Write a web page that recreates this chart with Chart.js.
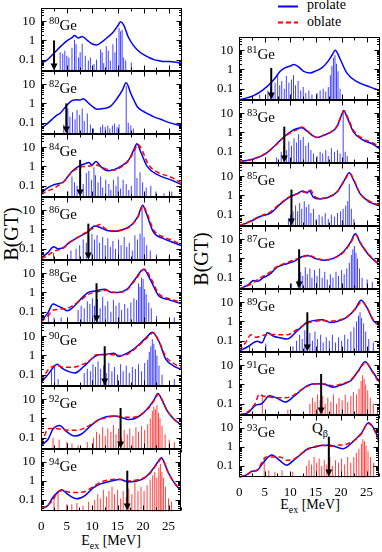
<!DOCTYPE html>
<html>
<head>
<meta charset="utf-8">
<script src="https://cdn.jsdelivr.net/npm/chart.js@4.4.1/dist/chart.umd.min.js"></script>
<style>
body{margin:0;width:382px;height:552px;background:#fff;position:relative;overflow:hidden;font-family:'Liberation Serif','Times New Roman',serif;color:#000}
canvas{position:absolute}
.lab{position:absolute;font-size:15px;line-height:15px;white-space:nowrap}
.lab .s{font-size:10.5px;position:relative;top:-6px}
.yt{position:absolute;font-size:20px;line-height:20px;transform:translate(-50%,-50%) rotate(-90deg);white-space:nowrap}
.xt{position:absolute;font-size:14px;line-height:14px;transform:translateX(-50%);white-space:nowrap}
.xt .s{font-size:10px;position:relative;top:4px}
.leg{position:absolute;font-size:14px;line-height:14px;white-space:nowrap}
svg{position:absolute}
</style>
</head>
<body>
<svg style="left:276px;top:0" width="26" height="30">
  <line x1="2" y1="6.5" x2="22" y2="6.5" stroke="#0000ff" stroke-width="2"/>
  <line x1="2" y1="22.5" x2="22" y2="22.5" stroke="#ff0000" stroke-width="2" stroke-dasharray="5,3"/>
</svg>
<div class="leg" style="left:307px;top:-2px">prolate</div>
<div class="leg" style="left:307px;top:15px">oblate</div>
<div class="yt" style="left:11px;top:234px">B(GT)</div>
<div class="yt" style="left:201px;top:259px">B(GT)</div>
<div class="xt" style="left:111px;top:534px">E<span class="s">ex</span> [MeV]</div>
<div class="xt" style="left:310px;top:498px">E<span class="s">ex</span> [MeV]</div>
<div class="lab" style="left:312px;top:421px">Q<span class="s" style="top:4px;font-size:10px">β</span></div>
<script>
Chart.defaults.font.family = "'Liberation Serif', 'Times New Roman', serif";
Chart.defaults.font.size = 13;
Chart.defaults.color = '#000';

const E_MAX = 27.5, B_MIN = 0.025, B_MAX = 50;
const xTicks = [0, 5, 10, 15, 20, 25];
const yTicks = [0.1, 1, 10];

// ---- strength functions, [E_ex (MeV), B(GT)] ----
const ge80Pro = [[0,0.065],[1,0.09],[2,0.16],[3,0.3],[4,0.55],[5,0.95],[6,1.4],[6.5,1.8],[7.2,1.35],[8,1.6],[9,1.0],[10,0.65],[10.8,0.58],[12,0.9],[13,1.5],[14,2.6],[15,6],[15.5,9.5],[16.1,6.5],[17,1.5],[18,0.55],[19,0.28],[20,0.18],[21,0.13],[22,0.1],[23,0.088],[24,0.08],[25,0.08],[26,0.075],[27.5,0.063]];
const ge80Str = [[3.7,0.24],[4.2,0.2],[4.6,0.29],[5,0.16],[5.4,0.13],[6,0.42],[6.5,1.1],[6.8,0.63],[7.3,0.13],[7.6,0.24],[8,0.68],[8.6,0.16],[9.2,0.09],[9.6,0.13],[10.3,0.06],[10.8,0.1],[11.6,0.35],[11.9,0.24],[12.2,0.065],[12.7,0.5],[13.1,0.29],[13.5,0.09],[14,0.63],[14.4,0.24],[14.7,1.35],[15.2,4.4],[15.5,3],[15.8,3.6],[16.1,0.13],[16.5,0.09],[17.6,0.07]];

const ge82Pro = [[0,0.052],[1,0.08],[2,0.14],[3,0.24],[3.7,0.31],[5,0.8],[6,1.4],[7,1.55],[7.6,1.5],[8.2,1.75],[9.3,1.0],[10,0.7],[10.9,0.5],[12.2,0.55],[13.5,0.7],[14.8,1.8],[15.8,4.6],[16.6,12],[17.5,3.3],[18.2,1.3],[18.8,0.65],[20,0.38],[20.7,0.3],[22,0.2],[23.3,0.15],[25,0.1],[27.5,0.066]];
const ge82Str = [[4.4,0.08],[5.2,0.55],[5.6,0.2],[6.1,0.35],[6.6,0.15],[7,0.45],[7.5,0.25],[8,0.55],[8.4,0.12],[9,0.3],[9.6,0.08],[10.2,0.05],[11.6,0.06],[12,0.08],[12.5,0.06],[13,0.07],[13.4,0.05],[13.9,0.07],[14.3,0.09],[14.8,0.06],[15.2,0.08],[16.6,8],[17,0.1],[17.5,0.07],[18,0.05]];

const ge84Pro = [[0,0.04],[1,0.07],[2.4,0.11],[3.5,0.13],[4.4,0.16],[5.2,0.3],[6,0.55],[7.3,1.0],[8.6,1.4],[9.3,1.6],[9.9,1.2],[10.7,1.8],[11.6,1.0],[12.9,0.6],[14.2,0.67],[15.5,1.0],[17.1,2.2],[18.1,7.5],[18.7,15],[19.4,6],[20.7,1.0],[22.7,0.37],[25.3,0.2],[27.5,0.11]];
const ge84Obl = [[0,0.035],[1,0.05],[2.4,0.07],[3.5,0.11],[4.4,0.16],[5.2,0.3],[6,0.5],[7.3,0.85],[8.6,1.0],[9.5,1.05],[10.5,1.2],[11.6,1.0],[12.9,0.7],[14.2,0.65],[15.5,0.9],[17.1,2.0],[18.1,6],[18.9,14],[19.7,7],[20.9,1.3],[22.7,0.5],[25.3,0.28],[27.5,0.13]];
const ge84Str = [[5.2,0.05],[6,0.3],[6.5,0.15],[7,0.1],[7.6,0.2],[8.2,0.12],[8.8,0.45],[9.3,0.6],[9.8,0.2],[10.3,0.9],[10.6,0.35],[11.1,0.15],[11.6,0.3],[12,0.08],[12.6,0.2],[13.2,0.12],[13.6,0.06],[14.1,0.2],[14.6,0.1],[15,0.3],[15.5,0.07],[16,0.2],[16.6,0.12],[17.1,0.06],[17.6,0.1],[18.3,12],[18.7,0.25],[19.3,0.5],[19.8,0.15],[20.5,0.08],[21.4,0.1],[22.4,0.05],[24,0.04],[25.5,0.05]];

const ge86Pro = [[0,0.033],[1.3,0.062],[2.4,0.125],[3.2,0.1],[4.2,0.11],[5.5,0.21],[7.5,0.43],[9.1,0.74],[10.4,1.5],[11.4,1.3],[12.7,0.9],[14.3,0.8],[16,1.0],[17.6,1.7],[18.9,4.8],[19.8,18],[20.5,7.3],[21.9,0.74],[23.9,0.33],[25.8,0.21],[27.5,0.14]];
const ge86Obl = [[0,0.03],[1.3,0.045],[2.4,0.07],[3.2,0.085],[4.2,0.1],[5.5,0.2],[7.5,0.45],[9.1,0.8],[10.4,1.3],[11.4,1.8],[12.7,1.0],[14.3,0.85],[16,0.95],[17.6,1.6],[18.9,4.5],[19.9,17],[20.7,6.5],[22,0.9],[23.9,0.4],[25.8,0.26],[27.5,0.16]];
const ge86Str = [[2.4,0.06],[5.8,0.08],[6.8,0.1],[7.5,0.15],[8.2,0.3],[8.8,0.2],[9.3,0.45],[9.9,0.6],[10.4,0.3],[10.9,0.5],[11.4,0.2],[12,0.4],[12.5,0.15],[13,0.35],[13.5,0.12],[14,0.25],[14.5,0.1],[15.1,0.3],[15.6,0.15],[16.2,0.4],[16.7,0.12],[17.2,0.2],[17.8,0.08],[18.3,0.5],[18.8,0.3],[19.3,0.6],[19.7,14],[20.1,0.4],[20.6,0.15],[21.3,0.08],[22.5,0.05],[25,0.04]];

const ge88Pro = [[0,0.033],[1.3,0.087],[2.3,0.25],[3.2,0.2],[4.2,0.15],[5.1,0.11],[6.1,0.16],[7.6,0.42],[9.2,1.0],[10.5,1.2],[12.5,1.45],[13.7,1.0],[15,1.0],[16.7,1.45],[18.3,4.7],[20,16],[21.3,4.7],[22.9,0.7],[24.9,0.42],[27.5,0.25]];
const ge88Obl = [[0,0.03],[1.3,0.06],[2.3,0.12],[3.2,0.13],[4.2,0.14],[5.1,0.15],[6.1,0.2],[7.6,0.38],[9.2,0.8],[10.5,1.0],[12.7,1.3],[13.7,1.05],[15,1.0],[16.7,1.3],[18.3,4.2],[20.2,16],[21.5,5],[22.9,0.9],[24.9,0.48],[27.5,0.3]];
const ge88Str = [[1.4,0.08],[2.5,0.05],[3.9,0.05],[7.2,0.12],[7.8,0.2],[8.4,0.15],[9,0.35],[9.5,0.25],[10,0.5],[10.4,0.2],[11,0.45],[11.5,0.15],[12,0.6],[12.5,0.2],[13,0.35],[13.6,0.1],[14.1,0.4],[14.6,0.2],[15.2,0.3],[15.7,0.12],[16.3,0.25],[16.9,0.15],[17.5,0.3],[18.1,0.5],[18.6,0.4],[19,3],[19.3,2],[19.6,6],[19.9,5],[20.2,1.5],[20.5,0.8],[21,0.3],[21.5,0.15],[22.5,0.06],[26,0.05]];

const ge90Pro = [[0,0.04],[1.3,0.1],[2.3,0.23],[3.1,0.35],[3.9,0.23],[5.2,0.15],[6.5,0.12],[8.2,0.25],[9.5,0.53],[10.8,1.0],[12.5,1.13],[14.2,1.3],[15.2,0.88],[16.2,1.1],[17.8,1.9],[19.4,4.4],[20.6,9],[21.7,16],[23,5.3],[24.3,0.66],[25.9,0.28],[27.5,0.18]];
const ge90Obl = [[0,0.05],[1.5,0.2],[2.5,0.28],[3.2,0.3],[4,0.25],[5.2,0.24],[6.5,0.25],[8.2,0.35],[9.5,0.55],[10.8,1.1],[12.5,1.1],[14.2,1.1],[15.2,1.0],[16.2,1.0],[17.8,1.7],[19.4,4],[20.6,8],[21.9,15],[23.1,5],[24.3,0.9],[25.9,0.38],[27.5,0.22]];
const ge90Str = [[2,0.15],[2.6,0.25],[3.3,0.06],[8.4,0.12],[9,0.2],[9.6,0.15],[10.1,0.35],[10.6,0.25],[11.1,0.5],[11.6,0.2],[12.2,0.3],[12.7,0.12],[13.2,0.4],[13.8,0.15],[14.3,0.25],[14.9,0.1],[15.5,0.35],[16,0.15],[16.6,0.3],[17.2,0.12],[17.8,0.25],[18.4,0.2],[19,0.35],[19.6,0.15],[20.2,0.4],[20.8,0.6],[21.1,1.5],[21.4,3],[21.7,7],[22,4],[22.3,2],[22.6,1],[23,0.3],[23.6,0.1],[26,0.06]];

const ge92Pro = [[0,0.04],[1.3,0.08],[2.3,0.28],[3.6,0.43],[4.9,0.21],[6.5,0.12],[7.8,0.15],[9.5,0.38],[11.1,0.81],[12.7,1.23],[14.4,1.35],[15.7,1.13],[17,0.88],[18.3,1.0],[19.9,1.9],[21.2,4.5],[22.1,10],[22.8,20],[23.6,9],[24.5,2.8],[25.8,1.0],[27.5,0.43]];
const ge92Obl = [[0,0.05],[1.5,0.3],[2.5,0.3],[3.5,0.28],[4.9,0.25],[6.5,0.24],[7.8,0.27],[9.5,0.45],[11.1,0.8],[12.7,1.1],[14.4,1.3],[15.7,1.2],[17,1.15],[18.3,1.2],[19.9,1.9],[21.2,4],[22.1,9],[22.9,18],[23.7,8.5],[24.5,2.8],[25.8,1.0],[27.5,0.4]];
const ge92Str = [[2.3,0.1],[3.5,0.08],[5,0.06],[6,0.05],[7.2,0.04],[9,0.06],[10.2,0.1],[10.8,0.2],[11.4,0.15],[12,0.35],[12.5,0.12],[13,0.3],[13.6,0.2],[14.1,0.45],[14.6,0.15],[15.1,0.3],[15.7,0.1],[16.2,0.25],[16.8,0.15],[17.3,0.3],[17.9,0.12],[18.5,0.35],[19,0.2],[19.6,0.4],[20.2,0.25],[20.8,0.5],[21.3,1],[21.7,2.5],[22,4],[22.3,3],[22.6,5],[22.9,2],[23.2,1],[23.6,0.4],[24.2,0.15],[25,0.08],[26,0.06]];

const ge94Pro = [[0,0.034],[1.3,0.051],[2.3,0.14],[3.2,0.25],[4,0.35],[5.3,0.19],[6.9,0.115],[8.6,0.17],[10.2,0.44],[11.8,0.73],[13.5,0.96],[15.5,1.2],[17.1,0.88],[18.4,0.96],[20,1.3],[21.2,2.4],[22,4.6],[22.9,10],[23.6,17],[24.2,9],[24.9,3],[26.5,0.59],[27.5,0.32]];
const ge94Obl = [[0,0.034],[1.3,0.055],[2.3,0.1],[3.2,0.25],[4.2,0.32],[5.3,0.26],[6.9,0.25],[8.6,0.28],[10.2,0.5],[11.8,0.9],[13.5,1.15],[15.5,1.25],[17.1,1.0],[18.4,1.1],[20,1.4],[21.2,2.3],[22,4.2],[22.9,9],[23.6,15],[24.3,8],[24.9,3],[26.5,0.62],[27.5,0.35]];
const ge94Str = [[2.5,0.15],[3.3,0.25],[5,0.06],[6,0.06],[7,0.07],[8.2,0.05],[9.3,0.08],[10.5,0.1],[11.1,0.2],[11.6,0.12],[12.2,0.35],[12.8,0.15],[13.3,0.3],[13.9,0.5],[14.4,0.2],[15,0.35],[15.6,0.12],[16.1,0.3],[16.7,0.15],[17.2,0.4],[17.8,0.2],[18.4,0.9],[19,0.3],[19.6,0.5],[20.2,0.3],[20.8,0.6],[21.4,1.2],[21.9,2],[22.3,3],[22.7,1.5],[23.1,5],[23.4,8],[23.7,3],[24,1.5],[24.4,0.5],[25,0.12],[25.6,0.08]];

const ge81Pro = [[0,0.026],[1.5,0.033],[2.8,0.043],[4.7,0.088],[6.7,0.28],[8,0.8],[9,1.23],[10,1.5],[10.6,1.8],[11.4,1.5],[12.6,0.8],[13.9,0.66],[14.8,0.8],[16.2,1.23],[17.4,2.8],[18.2,6],[18.75,10],[19.7,3.5],[21,0.66],[23,0.23],[25.6,0.12],[27.5,0.08]];
const ge81Str = [[4,0.05],[5.6,0.08],[6.1,0.12],[6.6,0.06],[7,0.2],[7.5,0.5],[7.9,0.15],[8.3,0.25],[8.8,0.1],[9.2,0.45],[9.7,0.2],[10.2,0.3],[10.6,0.5],[11,0.15],[11.5,0.25],[12,0.08],[12.5,0.12],[13,0.06],[13.6,0.08],[14.2,0.05],[15.2,0.06],[15.8,0.08],[16.4,0.1],[16.9,0.07],[17.4,0.12],[17.8,0.5],[18.1,1.5],[18.4,4],[18.7,5.4],[19,2],[19.3,0.8],[19.7,0.1]];

const ge83Pro = [[0,0.031],[1.5,0.035],[2.8,0.041],[5.1,0.076],[7,0.21],[8.7,0.58],[10,1.08],[11.3,1.6],[12.2,1.75],[13.2,1.2],[14.2,0.72],[15.2,0.54],[16.5,0.72],[17.8,1.0],[19.1,2.0],[20,8.3],[20.4,14],[21,6.8],[22.3,1.08],[24.3,0.39],[25.9,0.26],[27.5,0.14]];
const ge83Obl = [[0,0.03],[1.5,0.034],[2.8,0.042],[5.1,0.08],[7,0.2],[8.7,0.55],[10,0.95],[11.3,1.4],[12.2,1.9],[13.2,1.3],[14.2,0.75],[15.2,0.55],[16.5,0.7],[17.8,1.0],[19.1,2.2],[20,8],[20.5,13],[21.2,6],[22.3,1.3],[24.3,0.45],[25.9,0.3],[27.5,0.17]];
const ge83Str = [[7.3,0.05],[8.2,0.1],[8.7,0.2],[9.2,0.12],[9.7,0.35],[10.2,0.2],[10.7,0.5],[11.2,0.3],[11.6,0.8],[12,0.4],[12.5,0.6],[13,0.2],[13.5,0.3],[14,0.12],[14.5,0.08],[15.2,0.06],[15.8,0.1],[16.3,0.08],[16.9,0.12],[17.4,0.06],[18,0.15],[18.6,0.1],[19.2,0.12],[19.7,0.08],[20.3,12],[20.7,0.1],[21.1,0.06]];

const ge85Pro = [[0,0.026],[2.1,0.043],[4.1,0.08],[6.1,0.12],[8,0.35],[9.6,0.75],[11.3,1.23],[12.4,1.7],[13.2,1.35],[13.7,1.7],[14.5,0.8],[15.8,0.66],[17.1,0.75],[19.1,1.5],[20.4,5.3],[21.5,15],[22.3,6.6],[23.6,1.23],[25.6,0.43],[27.5,0.28]];
const ge85Obl = [[0,0.026],[2.1,0.045],[4.1,0.085],[6.1,0.14],[8,0.38],[9.6,0.8],[11.3,1.2],[12.4,1.5],[13.2,1.5],[13.9,1.9],[14.7,0.9],[15.8,0.7],[17.1,0.8],[19.1,1.5],[20.4,5],[21.6,14],[22.4,6.5],[23.6,1.3],[25.6,0.48],[27.5,0.3]];
const ge85Str = [[9.6,0.06],[10,0.1],[10.5,0.15],[11,0.3],[11.4,0.15],[11.8,0.4],[12.2,0.2],[12.7,0.5],[13.1,0.25],[13.6,0.35],[14,0.12],[14.5,0.2],[15,0.06],[15.6,0.1],[16.2,0.08],[16.8,0.12],[17.4,0.06],[18,0.1],[18.6,0.08],[19.2,0.12],[19.8,0.15],[20.3,0.2],[20.8,0.3],[21.2,0.5],[21.5,4],[21.9,0.2],[22.4,0.06]];

const ge87Pro = [[0,0.026],[1.8,0.043],[2.8,0.07],[3.6,0.065],[4.7,0.1],[6.1,0.16],[7.4,0.35],[9.3,0.53],[10.9,0.74],[12.2,1.23],[13.5,1.38],[14.8,1.0],[16.5,0.8],[18.4,1.0],[20.4,2.3],[21.7,6.6],[22.7,19],[23.6,6.6],[25.3,1.5],[27.5,0.43]];
const ge87Obl = [[0,0.026],[1.8,0.04],[2.8,0.055],[3.6,0.08],[4.7,0.12],[6.1,0.2],[7.4,0.38],[9.3,0.6],[10.9,0.9],[12.2,1.1],[13.5,1.5],[14.8,1.1],[16.5,0.85],[18.4,1.0],[20.4,2.1],[21.7,6],[22.8,17],[23.7,6.5],[25.3,1.6],[27.5,0.45]];
const ge87Str = [[10.2,0.05],[11.5,0.08],[12,0.2],[12.4,0.12],[12.9,0.35],[13.3,0.15],[13.8,0.3],[14.2,0.1],[14.7,0.25],[15.2,0.12],[15.7,0.3],[16.2,0.1],[16.7,0.2],[17.2,0.08],[17.8,0.15],[18.3,0.1],[18.9,0.2],[19.4,0.12],[20,0.25],[20.5,0.15],[21,0.3],[21.5,0.6],[21.9,1.5],[22.2,3],[22.5,4.5],[22.8,2],[23.1,1],[23.5,0.3],[24,0.1],[25,0.08],[26,0.06]];

const ge89Pro = [[0,0.028],[1.8,0.051],[3.5,0.094],[4.4,0.077],[5.5,0.26],[6.7,0.17],[8,0.14],[9.3,0.12],[11.3,0.32],[13.2,0.88],[14.5,1.1],[16.2,1.23],[17.8,0.88],[19.1,1.0],[21,1.63],[22.7,4.6],[23.8,12.6],[24.9,5.5],[26.2,1.1],[27.5,0.6]];
const ge89Obl = [[0,0.03],[1.2,0.077],[2.3,0.2],[3.3,0.15],[4.4,0.18],[5.5,0.2],[6.7,0.21],[8,0.2],[9.3,0.2],[11.3,0.38],[13.2,0.8],[14.5,1.0],[16.2,1.1],[17.8,1.05],[19.1,1.1],[21,1.7],[22.7,4.5],[24,11],[25,5],[26.2,1.2],[27.5,0.55]];
const ge89Str = [[2,0.06],[5.2,0.07],[10.5,0.05],[11.2,0.1],[11.8,0.2],[12.3,0.12],[12.8,0.35],[13.3,0.15],[13.8,0.25],[14.3,0.1],[14.8,0.3],[15.3,0.12],[15.9,0.2],[16.4,0.08],[17,0.15],[17.6,0.1],[18.2,0.2],[18.8,0.08],[19.4,0.15],[20,0.1],[20.6,0.2],[21.2,0.12],[21.8,0.3],[22.4,0.5],[22.9,1],[23.3,2],[23.6,3],[23.9,1.5],[24.3,0.8],[24.7,0.3],[25.3,0.12],[26.2,0.08]];

const ge91Pro = [[0,0.025],[1.8,0.035],[3.1,0.08],[4.4,0.1],[5.9,0.26],[7.4,0.19],[9,0.12],[10.6,0.23],[12.2,0.53],[13.5,0.92],[15.2,1.08],[16.8,1.0],[18.4,0.72],[20.1,1.0],[21.7,1.5],[23.3,5.3],[24.6,15],[25.9,5.3],[27.5,1.2]];
const ge91Obl = [[0,0.026],[1.8,0.04],[3.1,0.1],[3.9,0.3],[4.6,0.25],[5.9,0.22],[7.4,0.2],[9,0.2],[10.6,0.27],[12.2,0.55],[13.5,0.85],[15.2,1.1],[16.8,1.05],[18.4,0.85],[20.1,1.1],[21.7,1.6],[23.3,5],[24.7,14],[25.9,5],[27.5,1.0]];
const ge91Str = [[4.5,0.3],[9.5,0.05],[13.8,0.1],[14.3,0.2],[14.8,0.12],[15.3,0.3],[15.8,0.15],[16.3,0.25],[16.8,0.1],[17.3,0.2],[17.9,0.12],[18.4,0.3],[19,0.1],[19.5,0.2],[20.1,0.15],[20.7,0.3],[21.2,0.12],[21.8,0.25],[22.3,0.4],[22.9,0.3],[23.4,0.6],[23.8,1.5],[24.1,3],[24.4,2],[24.7,1],[25.1,0.5],[25.6,0.2],[26.2,0.1],[27,0.06]];

const ge93Pro = [[0,0.025],[1.5,0.035],[2.5,0.053],[3.5,0.058],[4.7,0.15],[6.4,0.38],[8,0.19],[9.3,0.11],[10.6,0.19],[12.2,0.43],[13.5,0.82],[14.8,1.0],[16.5,1.23],[17.8,1.23],[19.1,1.0],[20.4,0.82],[22.3,1.87],[24,5.4],[25.4,19],[26.6,8],[27.5,1.9]];
const ge93Obl = [[0,0.025],[1.5,0.035],[2.5,0.05],[3.5,0.06],[4.7,0.2],[5.2,0.3],[6.4,0.3],[8,0.3],[9.3,0.2],[10.6,0.22],[12.2,0.45],[13.5,0.75],[14.8,1.05],[16.5,1.2],[17.8,1.1],[19.1,1.25],[20.4,1.3],[22.3,2.0],[24,5],[25.3,18],[26.6,7],[27.5,1.7]];
const ge93Str = [[4.9,0.3],[5.8,0.06],[7,0.05],[8.4,0.06],[10.5,0.05],[13.2,0.1],[13.7,0.2],[14.2,0.12],[14.7,0.3],[15.2,0.15],[15.7,0.25],[16.2,0.1],[16.7,0.2],[17.2,0.12],[17.8,0.3],[18.3,0.1],[18.9,0.2],[19.5,0.15],[20.1,0.25],[20.7,0.12],[21.3,0.3],[21.9,0.15],[22.5,0.3],[23,0.5],[23.5,0.8],[24,1.5],[24.3,2.6],[24.6,2],[24.9,1.2],[25.3,0.6],[25.8,0.3],[26.4,0.15]];

// Q_beta arrows: position and top of the arrow
const leftIso = ['80','82','84','86','88','90','92','94'];
const leftQ = [2.5, 4.9, 7.6, 9.2, 10.8, 12.4, 15.5, 16.9];
const leftQTop = [1.0, 1.0, 2.2, 2.0, 3.0, 3.0, 3.5, 3.5];
const rightIso = ['81','83','85','87','89','91','93'];
const rightQ = [6.25, 8.8, 10.2, 11.7, 13.3, 16.0, 17.6];
const rightQTop = [1.2, 2.0, 2.0, 3.0, 3.0, 3.5, 3.5];

const leftData = [[ge80Pro,null,ge80Str],[ge82Pro,null,ge82Str],[ge84Pro,ge84Obl,ge84Str],[ge86Pro,ge86Obl,ge86Str],[ge88Pro,ge88Obl,ge88Str],[ge90Pro,ge90Obl,ge90Str],[ge92Pro,ge92Obl,ge92Str],[ge94Pro,ge94Obl,ge94Str]];
const rightData = [[ge81Pro,null,ge81Str],[ge83Pro,ge83Obl,ge83Str],[ge85Pro,ge85Obl,ge85Str],[ge87Pro,ge87Obl,ge87Str],[ge89Pro,ge89Obl,ge89Str],[ge91Pro,ge91Obl,ge91Str],[ge93Pro,ge93Obl,ge93Str]];

const framePlugin = {
    id: 'frame',
    afterDatasetsDraw(chart, args, o) {
        const ctx = chart.ctx, a = chart.chartArea;
        const x = chart.scales.x, y = chart.scales.y;
        const L = Math.round(a.left) + 0.5, R = Math.round(a.right) - 0.5;
        const T = Math.round(a.top) + 0.5, B = Math.round(a.bottom) - 0.5;
        ctx.save();
        // Q_beta arrow
        const qx = x.getPixelForValue(o.q), qy = y.getPixelForValue(o.qTop);
        ctx.strokeStyle = '#000';
        ctx.lineWidth = 2;
        ctx.beginPath(); ctx.moveTo(qx, qy); ctx.lineTo(qx, B - 6); ctx.stroke();
        ctx.fillStyle = '#000';
        ctx.beginPath(); ctx.moveTo(qx - 3.5, B - 7); ctx.lineTo(qx + 3.5, B - 7); ctx.lineTo(qx, B); ctx.closePath(); ctx.fill();
        // box + inner ticks
        ctx.lineWidth = 1;
        ctx.strokeRect(L, T, R - L, B - T);
        ctx.beginPath();
        for (let e = 0; e <= E_MAX; e += 2.5) {
            const px = Math.round(x.getPixelForValue(e)) + 0.5, len = e % 5 === 0 ? 5 : 3;
            ctx.moveTo(px, T); ctx.lineTo(px, T + len);
            ctx.moveTo(px, B); ctx.lineTo(px, B - len);
        }
        for (const d of [0.01, 0.1, 1, 10]) {
            for (let m = 1; m < 10; m++) {
                const v = m * d;
                if (v < B_MIN || v > B_MAX) continue;
                const py = Math.round(y.getPixelForValue(v)) + 0.5, len = m === 1 ? 5 : 2.5;
                ctx.moveTo(L, py); ctx.lineTo(L + len, py);
                ctx.moveTo(R, py); ctx.lineTo(R - len, py);
            }
        }
        ctx.stroke();
        ctx.restore();
    }
};

function pts(arr) { return arr.map(p => ({x: p[0], y: p[1]})); }

function cfg(p) {
    const ds = [];
    if (p.obl) ds.push({type: 'line', data: pts(p.obl), borderColor: '#ff0000', borderWidth: 1.5, borderDash: [5, 3],
        pointRadius: 0, cubicInterpolationMode: 'monotone', order: 1});
    ds.push({type: 'line', data: pts(p.pro), borderColor: '#0000ff', borderWidth: 1.5,
        pointRadius: 0, cubicInterpolationMode: 'monotone', order: 2});
    ds.push({type: 'bar', data: p.str.map(s => ({x: s[0], y: [0.001, s[1]]})),
        backgroundColor: p.red ? 'rgba(255,0,0,0.75)' : 'rgba(0,0,255,0.75)', borderWidth: 0,
        barThickness: 1, inflateAmount: 0, grouped: false, order: 3});
    return {
        type: 'bar',
        data: {datasets: ds},
        options: {
            responsive: false, animation: false, devicePixelRatio: 1, events: [],
            layout: {padding: 0},
            plugins: {legend: {display: false}, tooltip: {enabled: false}, frame: {q: p.q, qTop: p.qTop}},
            scales: {
                x: {type: 'linear', min: 0, max: E_MAX, offset: false,
                    grid: {display: false, drawTicks: false}, border: {display: false},
                    afterBuildTicks: s => { s.ticks = xTicks.map(v => ({value: v})); },
                    ticks: {display: p.bottom, padding: 7, maxRotation: 0, font: {size: 13}}},
                y: {type: 'logarithmic', min: B_MIN, max: B_MAX,
                    grid: {display: false, drawTicks: false}, border: {display: false},
                    afterBuildTicks: s => { s.ticks = yTicks.map(v => ({value: v})); },
                    ticks: {padding: 6, font: {size: 13}, callback: v => String(v)}}
            }
        },
        plugins: [framePlugin]
    };
}

function mkCanvas(w, h) {
    const cv = document.createElement('canvas');
    cv.width = w; cv.height = h;
    cv.style.width = w + 'px'; cv.style.height = h + 'px';
    cv.style.left = '0px'; cv.style.top = '0px';
    document.body.appendChild(cv);
    return cv;
}

function build(p) {
    let w = p.w + 60, h = p.h + (p.bottom ? 40 : 10);
    let cv = mkCanvas(w, h);
    let ch = new Chart(cv, cfg(p));
    let a = ch.chartArea;
    w = Math.round(w + p.w - (a.right - a.left));
    h = Math.round(h + p.h - (a.bottom - a.top));
    ch.destroy(); cv.remove();
    cv = mkCanvas(w, h);
    ch = new Chart(cv, cfg(p));
    a = ch.chartArea;
    cv.style.left = Math.round(p.x - a.left) + 'px';
    cv.style.top = Math.round(p.y - a.top) + 'px';
    // nucleus label
    const lab = document.createElement('div');
    lab.className = 'lab';
    lab.innerHTML = '<span class="s">' + p.iso + '</span>Ge';
    lab.style.left = (p.x + 8) + 'px';
    lab.style.top = (p.y + 10) + 'px';
    document.body.appendChild(lab);
}

const PH = 63, PW = 141;
leftIso.forEach((iso, i) => build({
    iso: iso, x: 41, y: 8 + i * PH, w: PW, h: PH, bottom: i === leftIso.length - 1,
    pro: leftData[i][0], obl: leftData[i][1], str: leftData[i][2], red: +iso >= 91,
    q: leftQ[i], qTop: leftQTop[i]
}));
rightIso.forEach((iso, i) => build({
    iso: iso, x: 239, y: 37 + i * PH, w: PW, h: PH, bottom: i === rightIso.length - 1,
    pro: rightData[i][0], obl: rightData[i][1], str: rightData[i][2], red: +iso >= 91,
    q: rightQ[i], qTop: rightQTop[i]
}));
</script>
</body>
</html>
